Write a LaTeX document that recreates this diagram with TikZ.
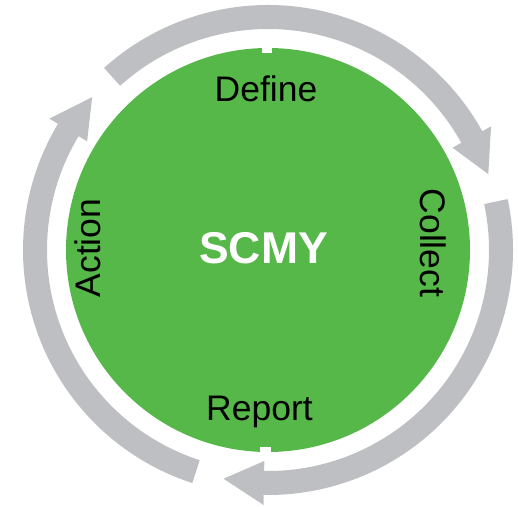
\documentclass[tikz,border=0pt]{standalone}
\usepackage{fontspec}
\setmainfont{Liberation Sans}
\definecolor{scmygreen}{RGB}{86,184,72}
\definecolor{arrowgray}{RGB}{190,191,195}

\begin{document}
\begin{tikzpicture}[x=1pt,y=1pt,
			stage/.style={text=black,inner sep=0pt,font=\fontsize{35.5}{40}\selectfont},
			loop/.style={fill=arrowgray,draw=none}]
			\useasboundingbox (0,0) rectangle (518,506);
			\coordinate (c) at (268,256);
			\fill[scmygreen] (c) circle[radius=202pt];
			% little white cuts in the green disc
			\fill[white] ([xshift=-6pt,yshift=197pt]c) rectangle ([xshift=4pt,yshift=204pt]c);
			\fill[white] ([xshift=-8pt,yshift=-204pt]c) rectangle ([xshift=3pt,yshift=-197pt]c);
			% three arrows round the disc
			\foreach \ta/\tb/\tc in {132/29/19, 12/-91/-101, 252/149/139}
				\fill[loop,shift={(c)}] (\ta:245pt) arc[start angle=\ta,end angle=\tb,radius=245pt] -- (\tb:255pt) -- (\tc:233pt) -- (\tb:211pt) -- (\tb:221pt) arc[start angle=\tb,end angle=\ta,radius=221pt] -- cycle;
			\node[stage,anchor=base] (define) at (266,404) {Define};
			\node[stage,anchor=base,rotate=-90] (collect) at (420,263) {Collect};
			\node[stage,anchor=base] (report) at (259.5,86) {Report};
			\node[stage,anchor=base,rotate=90] (action) at (100,258) {Action};
			\node[text=white,inner sep=0pt,anchor=base,font=\fontsize{44.5}{50}\selectfont\bfseries] (scmy) at (263.5,242) {SCMY};
		\end{tikzpicture}
\end{document}
